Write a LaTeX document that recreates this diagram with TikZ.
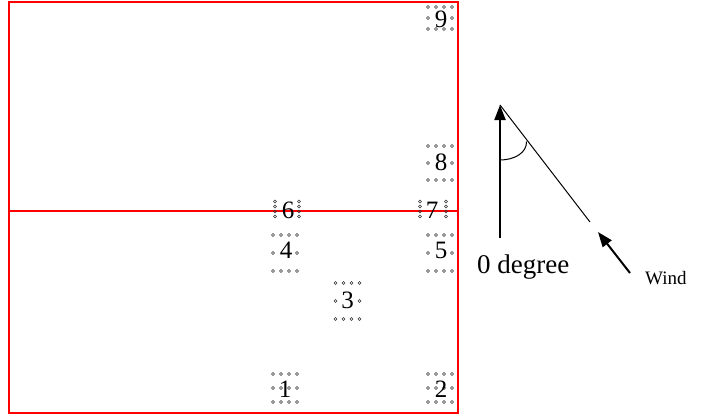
\documentclass[tikz,border=0pt]{standalone}
\usepackage{fontspec}
\setmainfont{Liberation Serif}
\usetikzlibrary{arrows.meta}
\definecolor{framered}{RGB}{255,0,0}
\tikzset{
  redframe/.style={draw=framered, line width=1.2pt},
  smalldot/.style={draw=black!80, line width=0.6pt},
  digit/.style={inner sep=0pt, font=\fontsize{25}{25}\selectfont},
  lbl/.style={inner sep=0pt, font=\fontsize{27}{27}\selectfont},
  smalllbl/.style={inner sep=0pt, font=\fontsize{19}{19}\selectfont},
  thickarrow/.style={line width=2pt, -{Triangle[length=15pt,width=11pt]}},
  thinline/.style={line width=1pt},
  pics/dotbox/.style n args={2}{code={
    \foreach \xx in {-12,-4,4,12}{
      \draw[smalldot] (\xx,-#1) circle (1.5);
      \draw[smalldot] (\xx,#1) circle (1.5);
    }
    \draw[smalldot] (-12,0) circle (1.5);
    \draw[smalldot] (12,0) circle (1.5);
    \ifnum#2=1
      \draw[smalldot] (-4,0) circle (1.5);
      \draw[smalldot] (4,0) circle (1.5);
    \fi
  }},
  pics/dotcols/.style={code={
    \foreach \yy in {-7.5,-2.5,2.5,7.5}{
      \draw[smalldot] (-#1,\yy) circle (1.5);
      \draw[smalldot] (#1,\yy) circle (1.5);
    }
  }}
}
\begin{document}
\begin{tikzpicture}[x=1pt,y=-1pt]
\useasboundingbox (0,0) rectangle (701,416);
% frame
\draw[redframe] (9,2) rectangle (458,413);
\draw[redframe] (9,211) -- (458,211);
% dot boxes
\pic at (285,388) {dotbox={14}{1}};
\pic at (440,388) {dotbox={14}{1}};
\pic at (347.5,301) {dotbox={18}{0}};
\pic at (285,253) {dotbox={18}{0}};
\pic at (440,253) {dotbox={18}{0}};
\pic at (440,163) {dotbox={17}{0}};
\pic at (440,18) {dotbox={11}{0}};
\pic at (287,209) {dotcols=12};
\pic at (433,209) {dotcols=13};
% digits
\node[digit] (n1) at (285,389) {1};
\node[digit] (n2) at (441,389) {2};
\node[digit] (n3) at (347.5,300) {3};
\node[digit] (n4) at (286,250) {4};
\node[digit] (n5) at (441,250) {5};
\node[digit] (n6) at (288,210) {6};
\node[digit] (n7) at (432,210) {7};
\node[digit] (n8) at (441,162) {8};
\node[digit] (n9) at (441,19) {9};
% angle diagram
\coordinate (base) at (500,238);
\coordinate (tip) at (500,105);
\coordinate (slantend) at (590,222);
\coordinate (arcA) at (526.5,141.5);
\coordinate (arcB) at (500,160);
\coordinate (windtail) at (630,273);
\coordinate (windtip) at (598,232);
\draw[thickarrow] (base) -- (tip);
\draw[thinline] (tip) -- (slantend);
\draw[thinline] (arcA) .. controls (527,153) and (514,160) .. (arcB);
\draw[thickarrow] (windtail) -- (windtip);
\node[lbl, anchor=base west] (zero) at (477,273) {0 degree};
\node[smalllbl, anchor=base west] (wind) at (645,284) {Wind};
\end{tikzpicture}
\end{document}
